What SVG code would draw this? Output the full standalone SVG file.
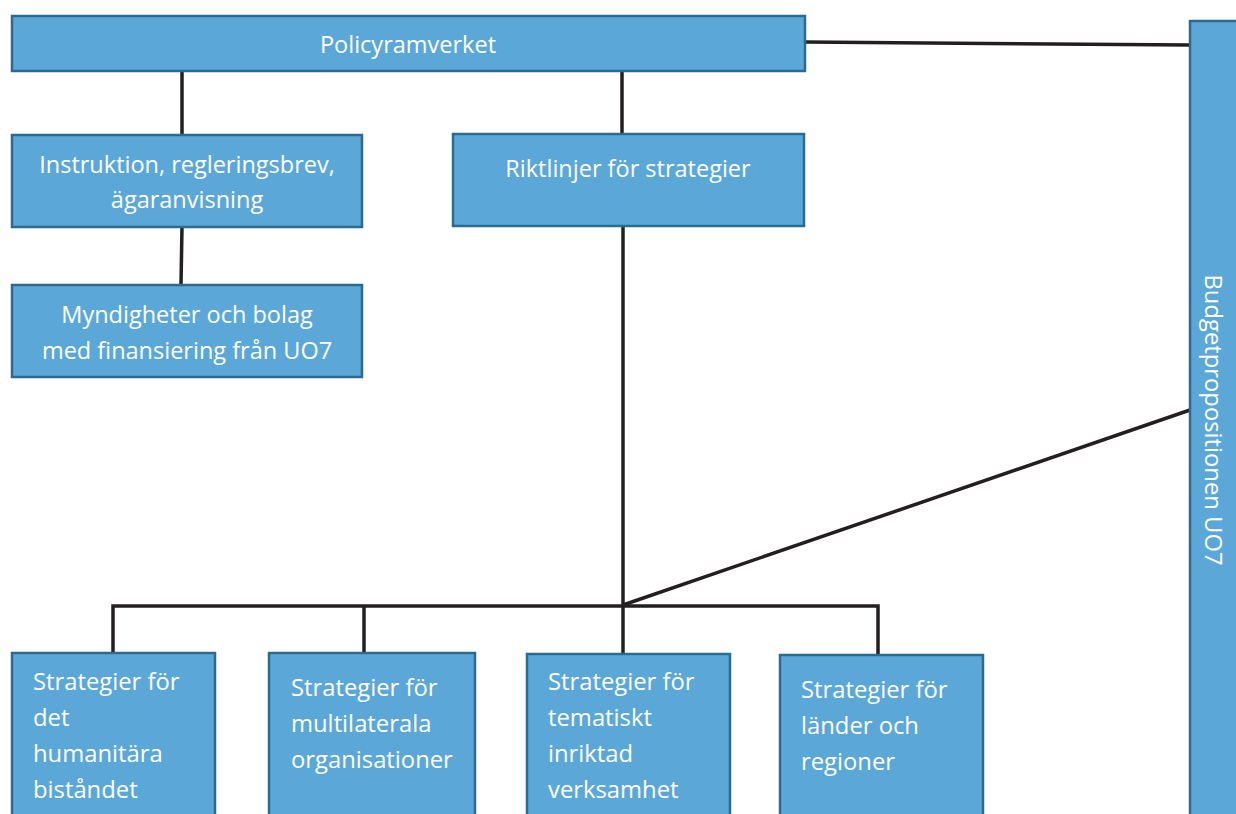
<svg xmlns="http://www.w3.org/2000/svg" width="1236" height="814" viewBox="0 0 1236 814">
<style>
.box{fill:#5BA8D8;stroke:#2C6A92;stroke-width:2.5}
.t{font-family:"Open Sans","Liberation Sans",sans-serif;font-size:23.5px;fill:#ffffff}
.c{text-anchor:middle}
.b{font-family:"Open Sans","Liberation Sans",sans-serif;font-size:23.8px;fill:#ffffff}
.ln{stroke:#231F20;stroke-width:3.5;fill:none}
</style>
<rect width="1236" height="814" fill="#ffffff"/>
<g id="connectors">
<line class="ln" x1="182" y1="71" x2="182" y2="135"/>
<line class="ln" x1="182" y1="227" x2="181" y2="285"/>
<line class="ln" x1="622" y1="71" x2="622" y2="134"/>
<line class="ln" x1="623" y1="226" x2="623" y2="654"/>
<polyline class="ln" points="113,653 113,606 878,606 878,655"/>
<line class="ln" x1="364" y1="606" x2="364" y2="653"/>
<line class="ln" x1="805" y1="42" x2="1190" y2="45"/>
<line class="ln" x1="623" y1="605" x2="1190" y2="410"/>
</g>
<g id="policyramverket">
<rect class="box" x="12" y="16" width="793" height="55"/>
<text class="t c" x="408" y="53">Policyramverket</text>
</g>
<g id="instruktion">
<rect class="box" x="12" y="135" width="350" height="92"/>
<text class="t c" x="187" y="173">Instruktion, regleringsbrev,</text>
<text class="t c" x="187" y="208">ägaranvisning</text>
</g>
<g id="myndigheter">
<rect class="box" x="12" y="285" width="350" height="92"/>
<text class="t c" x="187" y="323">Myndigheter och bolag</text>
<text class="t c" x="187" y="359">med finansiering från UO7</text>
</g>
<g id="riktlinjer">
<rect class="box" x="453" y="134" width="351" height="92"/>
<text class="t c" x="628" y="177">Riktlinjer för strategier</text>
</g>
<g id="budget">
<rect class="box" x="1190" y="21" width="50" height="800"/>
<text class="b c" transform="translate(1205,420) rotate(90)">Budgetpropositionen UO7</text>
</g>
<g id="humanitara">
<rect class="box" x="12" y="653" width="203" height="170"/>
<text class="b" x="33" y="690">Strategier för</text>
<text class="b" x="33" y="726">det</text>
<text class="b" x="33" y="762">humanitära</text>
<text class="b" x="33" y="798">biståndet</text>
</g>
<g id="multilaterala">
<rect class="box" x="269" y="653" width="206" height="170"/>
<text class="b" x="291" y="696">Strategier för</text>
<text class="b" x="291" y="732">multilaterala</text>
<text class="b" x="291" y="768">organisationer</text>
</g>
<g id="tematiskt">
<rect class="box" x="527" y="654" width="203" height="170"/>
<text class="b" x="548" y="690">Strategier för</text>
<text class="b" x="548" y="726">tematiskt</text>
<text class="b" x="548" y="762">inriktad</text>
<text class="b" x="548" y="798">verksamhet</text>
</g>
<g id="lander">
<rect class="box" x="780" y="655" width="203" height="170"/>
<text class="b" x="801" y="698">Strategier för</text>
<text class="b" x="801" y="734">länder och</text>
<text class="b" x="801" y="770">regioner</text>
</g>
</svg>
